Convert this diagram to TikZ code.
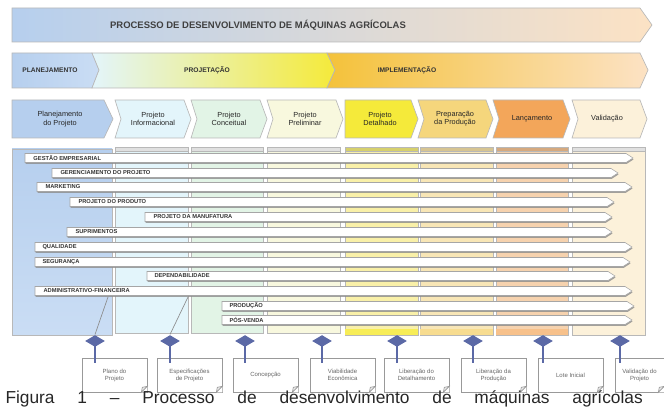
\documentclass[tikz,border=0pt]{standalone}
\usepackage{fontspec}
\setmainfont{Liberation Sans}
\usetikzlibrary{shapes.geometric,shadows}

\definecolor{planblue}{HTML}{B6CFEE}
\definecolor{planlight}{HTML}{CADDF4}
\definecolor{infocyan}{HTML}{E3F5FB}
\definecolor{concgreen}{HTML}{E2F4E6}
\definecolor{prelyel}{HTML}{F8F8DE}
\definecolor{detyel}{HTML}{F5EA3A}
\definecolor{detlight}{HTML}{F9F0A8}
\definecolor{prepochre}{HTML}{F5D67C}
\definecolor{preplight}{HTML}{F8E6B6}
\definecolor{lancorange}{HTML}{F3A65A}
\definecolor{lanclight}{HTML}{F6D2AE}
\definecolor{valcream}{HTML}{FCF1DA}
\definecolor{peach}{HTML}{FCE2C4}
\definecolor{gold}{HTML}{F4C23A}
\definecolor{slate}{HTML}{5B69A6}

\tikzset{every picture/.style={line width=0.75pt}}
\tikzset{
  banner/.style={draw=black!28, line width=0.5pt},
  column/.style={draw=black!28, line width=0.4pt},
  headtext/.style={inner sep=0.75pt, font=\fontsize{5}{6}\selectfont\bfseries, text=black!80},
  phasetext/.style={inner sep=0.75pt, align=center, font=\fontsize{5.5}{6.2}\selectfont, text=black!85},
  bar/.style={fill=white, draw=black!35, line width=0.4pt, drop shadow={shadow xshift=0.4pt, shadow yshift=-1.1pt, fill=black!45, opacity=0.8}},
  barlabel/.style={anchor=west, inner sep=0.75pt, font=\fontsize{4.3}{5}\selectfont\bfseries, text=black!80},
  milestone/.style={diamond, fill=slate, inner sep=0pt, minimum width=15pt, minimum height=9pt},
  doc/.style={draw=black!40, fill=white, line width=0.5pt, minimum width=48.75pt, minimum height=25.5pt, inner sep=1pt, align=center, font=\fontsize{4.5}{5.2}\selectfont, text=black!60},
  link/.style={draw=slate, line width=1pt},
}

\begin{document}
\begin{tikzpicture}[x=0.75pt,y=0.75pt,yscale=-1,xscale=1]
\useasboundingbox (0,0) rectangle (664,409);

%Shape: Title banner
\draw [banner, left color=planblue, middle color=black!3, right color=peach] (12,8) -- (640,8) -- (652,25) -- (640,42) -- (12,42) -- cycle ;
% Text Node
\node [inner sep=0.75pt, font=\fontsize{7.1}{8}\selectfont\bfseries, text=black!75] (title) at (258,25) {PROCESSO DE DESENVOLVIMENTO DE MÁQUINAS AGRÍCOLAS};

%Shape: Macro phases
\draw [banner, left color=planblue, right color=planlight] (12,53) -- (92,53) -- (99,70) -- (92,88) -- (12,88) -- cycle ;
\draw [banner, left color=infocyan, middle color=black!2, right color=detyel] (92,53) -- (327,53) -- (335,70) -- (327,88) -- (92,88) -- (99,70) -- cycle ;
\draw [banner, left color=gold, middle color=prepochre!60, right color=peach] (327,53) -- (640,53) -- (648,70) -- (640,88) -- (327,88) -- (335,70) -- cycle ;
% Text Node
\node [headtext] (plan) at (50,70) {PLANEJAMENTO};
\node [headtext] (projet) at (207,70) {PROJETAÇÃO};
\node [headtext] (implem) at (407,70) {IMPLEMENTAÇÃO};

%Shape: Phases
\draw [banner, fill=planblue] (12,100) -- (104,100) -- (113,119) -- (104,138) -- (12,138) -- cycle ;
\draw [banner, fill=infocyan] (115,100) -- (184,100) -- (191,119) -- (184,138) -- (115,138) -- (121,119) -- cycle ;
\draw [banner, fill=concgreen] (191,100) -- (260,100) -- (267,119) -- (260,138) -- (191,138) -- (197,119) -- cycle ;
\draw [banner, fill=prelyel] (267,100) -- (336,100) -- (343,119) -- (336,138) -- (267,138) -- (273,119) -- cycle ;
\draw [banner, fill=detyel] (345,100) -- (411,100) -- (418,119) -- (411,138) -- (345,138) -- cycle ;
\draw [banner, fill=prepochre] (418,100) -- (486,100) -- (493,119) -- (486,138) -- (418,138) -- (424,119) -- cycle ;
\draw [banner, fill=lancorange] (493,100) -- (563,100) -- (570,119) -- (563,138) -- (493,138) -- (499,119) -- cycle ;
\draw [banner, fill=valcream] (572,100) -- (640,100) -- (647,119) -- (640,138) -- (572,138) -- (578,119) -- cycle ;
% Text Node
\node [phasetext] (pplan) at (60,119) {Planejamento\\do Projeto};
\node [phasetext] (pinfo) at (153,119) {Projeto\\Informacional};
\node [phasetext] (pconc) at (229,119) {Projeto\\Conceitual};
\node [phasetext] (ppre) at (305,119) {Projeto\\Preliminar};
\node [phasetext] (pdet) at (380,119) {Projeto\\Detalhado};
\node [phasetext] (pprep) at (455,119) {Preparação\\da Produção};
\node [phasetext] (plan2) at (532,119) {Lançamento};
\node [phasetext] (pval) at (607,119) {Validação};

%Shape: Columns
\draw [column, top color=planblue, bottom color=planlight] (12,149) rectangle (112,335) ;
\draw [column, fill=infocyan] (115,147) rectangle (188,333) ;
\draw [column, fill=concgreen] (191,147) rectangle (263,333) ;
\draw [column, fill=prelyel] (267,147) rectangle (340,333) ;
\draw [column, fill=detlight] (345,147) rectangle (418,335) ;
\draw [column, fill=preplight] (420,147) rectangle (493,335) ;
\draw [column, fill=lanclight] (496,147) rectangle (568,335) ;
\draw [column, fill=valcream] (572,147) rectangle (645,335) ;
%Shape: Column tabs
\draw [column, fill=black!12] (115,147) rectangle (188,151) ;
\draw [column, fill=black!12] (191,147) rectangle (263,151) ;
\draw [column, fill=black!12] (267,147) rectangle (340,151) ;
\draw [column, fill=detyel!80!black!70] (345,147) rectangle (418,151) ;
\draw [column, fill=prepochre!80!black!70] (420,147) rectangle (493,151) ;
\draw [column, fill=lancorange!80!black!70] (496,147) rectangle (568,151) ;
\draw [column, fill=black!12] (572,147) rectangle (645,151) ;
\fill [detyel!85] (345,329) rectangle (418,335) ;
\fill [prepochre!85] (420,329) rectangle (493,335) ;
\fill [lancorange!70] (496,329) rectangle (568,335) ;

%Shape: Bars
\draw [bar] (25,153.5) -- (626,153.5) -- (633,158) -- (626,162.5) -- (25,162.5) -- cycle ;
\draw [bar] (52,168.5) -- (611,168.5) -- (618,173) -- (611,177.5) -- (52,177.5) -- cycle ;
\draw [bar] (37,182.5) -- (625,182.5) -- (632,187) -- (625,191.5) -- (37,191.5) -- cycle ;
\draw [bar] (70,197.5) -- (607,197.5) -- (614,202) -- (607,206.5) -- (70,206.5) -- cycle ;
\draw [bar] (145,212.5) -- (605,212.5) -- (612,217) -- (605,221.5) -- (145,221.5) -- cycle ;
\draw [bar] (67,227.5) -- (605,227.5) -- (612,232) -- (605,236.5) -- (67,236.5) -- cycle ;
\draw [bar] (35,242.5) -- (625,242.5) -- (632,247) -- (625,251.5) -- (35,251.5) -- cycle ;
\draw [bar] (35,257.5) -- (623,257.5) -- (630,262) -- (623,266.5) -- (35,266.5) -- cycle ;
\draw [bar] (147,271.5) -- (608,271.5) -- (615,276) -- (608,280.5) -- (147,280.5) -- cycle ;
\draw [bar] (35,286.5) -- (625,286.5) -- (632,291) -- (625,295.5) -- (35,295.5) -- cycle ;
\draw [bar] (222,301.5) -- (627,301.5) -- (634,306) -- (627,310.5) -- (222,310.5) -- cycle ;
\draw [bar] (222,315.5) -- (625,315.5) -- (632,320) -- (625,324.5) -- (222,324.5) -- cycle ;
% Text Node
\node [barlabel] (gest) at (32,158) {GESTÃO EMPRESARIAL};
\node [barlabel] (ger) at (59,173) {GERENCIAMENTO DO PROJETO};
\node [barlabel] (mkt) at (44,187) {MARKETING};
\node [barlabel] (prod) at (77,202) {PROJETO DO PRODUTO};
\node [barlabel] (manuf) at (152,217) {PROJETO DA MANUFATURA};
\node [barlabel] (supr) at (74,232) {SUPRIMENTOS};
\node [barlabel] (qual) at (41,247) {QUALIDADE};
\node [barlabel] (seg) at (41,262) {SEGURANÇA};
\node [barlabel] (dep) at (153,276) {DEPENDABILIDADE};
\node [barlabel] (adm) at (42,291) {ADMINISTRATIVO-FINANCEIRA};
\node [barlabel] (prodc) at (228,306) {PRODUÇÃO};
\node [barlabel] (pos) at (228,320) {PÓS-VENDA};

% Milestones
\node [milestone] (d1) at (95,341) {};
\node [milestone] (d2) at (170,341) {};
\node [milestone] (d3) at (245,341) {};
\node [milestone] (d4) at (322,341) {};
\node [milestone] (d5) at (397,341) {};
\node [milestone] (d6) at (473,341) {};
\node [milestone] (d7) at (543,341) {};
\node [milestone] (d8) at (620,341) {};
\coordinate (m1) at (108,297) ;
\coordinate (m2) at (188,297) ;
\draw [black!45, line width=0.5pt] (d1.north) -- (m1) ;
\draw [black!45, line width=0.5pt] (d2.north) -- (m2) ;

% Outputs
\node [doc] (b1) at (114.5,375) {Plano do\\Projeto};
\node [doc] (b2) at (189.5,375) {Especificações\\de Projeto};
\node [doc] (b3) at (265.5,375) {Concepção};
\node [doc] (b4) at (342.5,375) {Viabilidade\\Econômica};
\node [doc] (b5) at (416.5,375) {Liberação do\\Detalhamento};
\node [doc] (b6) at (493.5,375) {Liberação da\\Produção};
\node [doc] (b7) at (570.5,375) {Lote Inicial};
\node [doc, minimum width=36.75pt] (b8) at (639.5,375) {Validação do\\Projeto};
\foreach \b in {b1,b2,b3,b4,b5,b6,b7,b8}{
  \fill [white] (\b.south east) -- ++(-6,0) -- ++(6,-6) -- cycle ;
  \draw [black!40, line width=0.5pt, fill=black!8] (\b.south east) ++(-6,0) -- ++(1,-5) -- ++(5,-1) -- cycle ;
}
\draw [link] (d1.center) -- (d1.center |- b1.north) -- ++(0,5) ;
\draw [link] (d2.center) -- (d2.center |- b2.north) -- ++(0,5) ;
\draw [link] (d3.center) -- (d3.center |- b3.north) -- ++(0,5) ;
\draw [link] (d4.center) -- (d4.center |- b4.north) -- ++(0,5) ;
\draw [link] (d5.center) -- (d5.center |- b5.north) -- ++(0,5) ;
\draw [link] (d6.center) -- (d6.center |- b6.north) -- ++(0,5) ;
\draw [link] (d7.center) -- (d7.center |- b7.north) -- ++(0,5) ;
\draw [link] (d8.center) -- (d8.center |- b8.north) -- ++(0,5) ;

% Caption
\node [anchor=base west, inner sep=0pt, font=\fontsize{13}{15}\selectfont, text=black!85] (cap) at (5,404) {\makebox[478pt][s]{Figura 1 – Processo de desenvolvimento de máquinas agrícolas}};

\end{tikzpicture}
\end{document}
